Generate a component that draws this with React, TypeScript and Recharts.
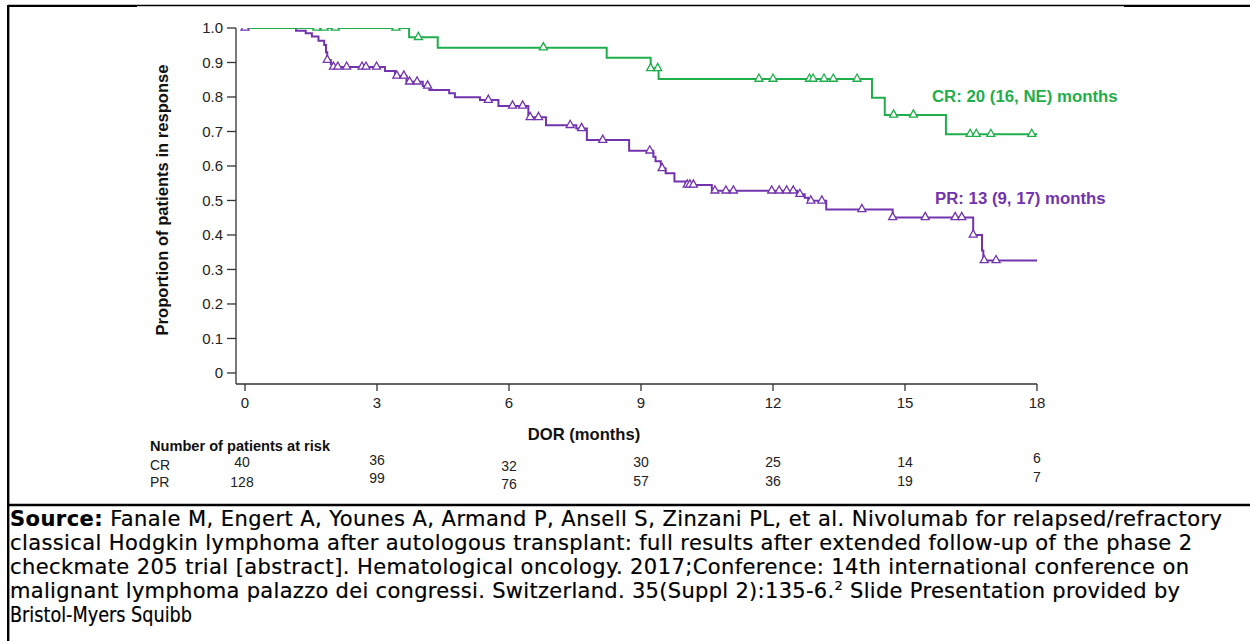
import React from "react";
import { ComposedChart, Line, XAxis, YAxis } from "recharts";

// ---------- data ----------
const xTicks = [0, 3, 6, 9, 12, 15, 18];
const yTicks = [0, 0.1, 0.2, 0.3, 0.4, 0.5, 0.6, 0.7, 0.8, 0.9, 1.0];

const crRisk = [40, 36, 32, 30, 25, 14, 6];
const prRisk = [128, 99, 76, 57, 36, 19, 7];

// Kaplan-Meier step changes: [month, proportion]
const crSteps: [number, number][] = [
  [0, 1.0], [3.73, 0.973], [4.38, 0.943], [8.22, 0.914], [9.22, 0.883],
  [9.4, 0.852], [14.25, 0.798], [14.54, 0.748], [15.93, 0.692], [18.0, 0.692],
];
const crCensored: number[] = [
  1.63, 1.8, 2.05, 3.43, 3.94, 6.78, 9.22, 9.38, 11.68, 12.0, 12.83, 12.91,
  13.16, 13.37, 13.91, 14.74, 15.19, 16.48, 16.62, 16.95, 17.88,
];

const prSteps: [number, number][] = [
  [0, 1.0], [1.16, 0.992], [1.38, 0.985], [1.52, 0.975], [1.67, 0.963],
  [1.8, 0.951], [1.84, 0.93], [1.87, 0.907], [1.95, 0.896], [2.01, 0.887],
  [3.18, 0.875], [3.41, 0.861], [3.67, 0.844], [4.04, 0.832], [4.19, 0.82],
  [4.64, 0.811], [4.77, 0.799], [5.34, 0.791], [5.76, 0.774], [6.44, 0.741],
  [6.84, 0.718], [7.53, 0.709], [7.77, 0.675], [8.73, 0.644], [9.28, 0.627],
  [9.33, 0.614], [9.45, 0.593], [9.56, 0.579], [9.76, 0.555], [10.01, 0.545],
  [10.61, 0.528], [12.55, 0.518], [12.72, 0.508], [12.8, 0.499], [13.21, 0.474],
  [14.72, 0.451], [16.55, 0.4], [16.75, 0.355], [16.78, 0.326], [18.0, 0.326],
];
const prCensored: number[] = [
  0, 1.87, 2.01, 2.11, 2.31, 2.66, 2.75, 2.99, 3.45, 3.61, 3.74, 3.91, 4.15,
  5.53, 6.08, 6.31, 6.48, 6.67, 7.39, 7.65, 8.13, 9.2, 9.48, 10.05, 10.11,
  10.19, 10.68, 10.93, 11.1, 11.97, 12.14, 12.31, 12.46, 12.61, 12.86, 13.11,
  14.02, 14.72, 15.46, 16.14, 16.29, 16.55, 16.8, 17.07,
];

const crLabel = "CR: 20 (16, NE) months";
const prLabel = "PR: 13 (9, 17) months";

// ---------- style ----------
const GREEN = "#1fae4c";
const PURPLE = "#7234ad";
const AXIS = "#333";
const ARIAL = "'Liberation Sans', Arial, sans-serif";
const SRC_FONT = "'DejaVu Sans', Verdana, sans-serif";

// small vertical jitter of the at-risk numbers (layout only)
const crRiskDy = [71, 69, 75, 71, 71, 71, 67];
const prRiskDy = [91, 87, 93, 90, 90, 90, 86];
const riskDx = [-3, 0, 0, 0, 0, 0, 0];

type Pt = { t: number; p: number; c: boolean };

function levelAt(steps: [number, number][], t: number) {
  let p = steps[0][1];
  for (const [st, sp] of steps) if (st <= t) p = sp;
  return p;
}

function buildSeries(steps: [number, number][], censored: number[]): Pt[] {
  const pts: Pt[] = steps.map(([t, p]) => ({ t, p, c: false }));
  censored.forEach((t) => pts.push({ t, p: levelAt(steps, t), c: true }));
  pts.sort((a, b) => a.t - b.t || (a.c ? 1 : 0) - (b.c ? 1 : 0));
  return pts;
}

const crData = buildSeries(crSteps, crCensored);
const prData = buildSeries(prSteps, prCensored);

const makeDot = (color: string) => (props: any) => {
  const { cx, cy, payload, index } = props;
  if (!payload || !payload.c || cx == null || cy == null) return <g key={`n${index}`} />;
  const pts = `${cx - 4},${cy + 2.2} ${cx + 4},${cy + 2.2} ${cx},${cy - 5}`;
  return <polygon key={`d${index}`} points={pts} fill="#fff" stroke={color} strokeWidth={1.3} />;
};

const XTick = (props: any) => {
  const { x, y, payload } = props;
  const i = xTicks.indexOf(payload.value);
  return (
    <g fontFamily={ARIAL}>
      <text x={x} y={y + 12} dy="0.35em" textAnchor="middle" fontSize={15} fill="#222">
        {payload.value}
      </text>
      {i >= 0 && (
        <>
          <text x={x + riskDx[i]} y={y + crRiskDy[i]} dy="0.35em" textAnchor="middle" fontSize={14} fill="#222">
            {crRisk[i]}
          </text>
          <text x={x + riskDx[i]} y={y + prRiskDy[i]} dy="0.35em" textAnchor="middle" fontSize={14} fill="#222">
            {prRisk[i]}
          </text>
        </>
      )}
    </g>
  );
};

export default function App() {
  return (
    <div style={{ position: "absolute", left: 0, top: 0, width: 1250, height: 641, background: "#fff", overflow: "hidden" }}>
      <div style={{ position: "absolute", left: 0, top: 0 }}>
        <ComposedChart width={1250} height={641} margin={{ top: 28, right: 213, bottom: 227, left: 176 }}>
          <XAxis
            dataKey="t"
            type="number"
            domain={[-0.2045, 18]}
            ticks={xTicks}
            interval={0}
            allowDataOverflow
            height={30}
            tickSize={7}
            tickMargin={0}
            stroke={AXIS}
            strokeWidth={1.3}
            tick={<XTick />}
          />
          <YAxis
            type="number"
            domain={[-0.032, 1]}
            ticks={yTicks}
            interval={0}
            allowDataOverflow
            width={60}
            tickSize={9}
            tickMargin={4}
            stroke={AXIS}
            strokeWidth={1.3}
            tickFormatter={(v: number) => (v === 0 ? "0" : v.toFixed(1))}
            tick={{ fontSize: 15, fill: "#222", fontFamily: ARIAL }}
          />
          <Line
            data={prData}
            dataKey="p"
            type="stepAfter"
            stroke={PURPLE}
            strokeWidth={2}
            dot={makeDot(PURPLE)}
            activeDot={false}
            isAnimationActive={false}
          />
          <Line
            data={crData}
            dataKey="p"
            type="stepAfter"
            stroke={GREEN}
            strokeWidth={2}
            dot={makeDot(GREEN)}
            activeDot={false}
            isAnimationActive={false}
          />
        </ComposedChart>
      </div>
      <svg width={1250} height={641} style={{ position: "absolute", left: 0, top: 0, pointerEvents: "none" }}>
        {/* frame */}
        <line x1={8} y1={5.5} x2={1250} y2={5.5} stroke="#000" strokeWidth={1.4} />
        <line x1={8} y1={6} x2={137} y2={6} stroke="#000" strokeWidth={2.2} />
        <line x1={1124} y1={6} x2={1250} y2={6} stroke="#000" strokeWidth={2.2} />
        <line x1={8.2} y1={5} x2={8.2} y2={641} stroke="#000" strokeWidth={2.4} />
        <line x1={8} y1={505} x2={1250} y2={505} stroke="#000" strokeWidth={2.6} />

        {/* axis titles */}
        <text
          x={162}
          y={200}
          transform="rotate(-90 162 200)"
          textAnchor="middle"
          dy="0.35em"
          fontFamily={ARIAL}
          fontWeight="bold"
          fontSize={16.6}
          fill="#111"
        >
          Proportion of patients in response
        </text>
        <text x={584} y={434} textAnchor="middle" dy="0.35em" fontFamily={ARIAL} fontWeight="bold" fontSize={16.6} fill="#111">
          DOR (months)
        </text>

        {/* at-risk table labels */}
        <text x={150} y={446} dy="0.35em" fontFamily={ARIAL} fontWeight="bold" fontSize={14.6} fill="#111">
          Number of patients at risk
        </text>
        <text x={150} y={465} dy="0.35em" fontFamily={ARIAL} fontSize={14} fill="#222">CR</text>
        <text x={150} y={482} dy="0.35em" fontFamily={ARIAL} fontSize={14} fill="#222">PR</text>

        {/* curve annotations */}
        <text x={932} y={96} dy="0.35em" fontFamily={ARIAL} fontWeight="bold" fontSize={16.8} fill={GREEN}>
          {crLabel}
        </text>
        <text x={935} y={198} dy="0.35em" fontFamily={ARIAL} fontWeight="bold" fontSize={16.8} fill={PURPLE}>
          {prLabel}
        </text>

        {/* source */}
        <g fontFamily={SRC_FONT} fontSize={21} fill="#000" stroke="#000" strokeWidth={0.2}>
          <text x={10} y={526} textLength={1212} lengthAdjust="spacing">
            <tspan fontWeight="bold">Source:</tspan> Fanale M, Engert A, Younes A, Armand P, Ansell S, Zinzani PL, et al. Nivolumab for relapsed/refractory
          </text>
          <text x={10} y={550} textLength={1182} lengthAdjust="spacing">
            classical Hodgkin lymphoma after autologous transplant: full results after extended follow-up of the phase 2
          </text>
          <text x={10} y={574} textLength={1179} lengthAdjust="spacing">
            checkmate 205 trial [abstract]. Hematological oncology. 2017;Conference: 14th international conference on
          </text>
          <text x={10} y={598} textLength={1170} lengthAdjust="spacing">
            malignant lymphoma palazzo dei congressi. Switzerland. 35(Suppl 2):135-6.
            <tspan fontSize={13} dy={-8}>2</tspan>
            <tspan dy={8}> Slide Presentation provided by</tspan>
          </text>
          <text x={10} y={622} textLength={182} lengthAdjust="spacingAndGlyphs">
            Bristol-Myers Squibb
          </text>
        </g>
      </svg>
    </div>
  );
}
